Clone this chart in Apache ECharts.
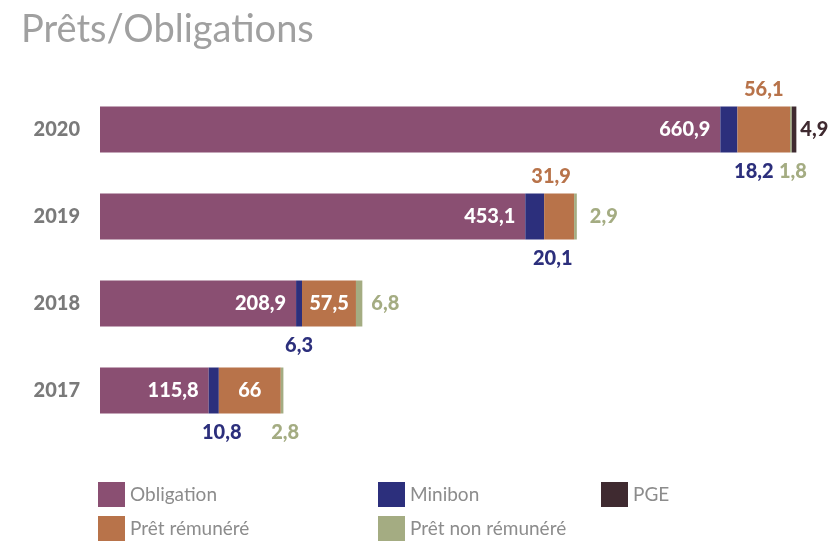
<!DOCTYPE html>
<html><head><meta charset="utf-8">
<script src="https://cdn.jsdelivr.net/npm/echarts@6/dist/echarts.min.js"></script>
<style>html,body{margin:0;padding:0;background:#fff}#c{width:834px;height:552px}</style>
</head><body><div id="c"></div>
<script>
const years = ['2017','2018','2019','2020'];
const obligation = [115.8, 208.9, 453.1, 660.9];
const minibon = [10.8, 6.3, 20.1, 18.2];
const pretRem = [66, 57.5, 31.9, 56.1];
const pretNonRem = [2.8, 6.8, 2.9, 1.8];
const pge = [0, 0, 0, 4.9];

const fmt = v => String(v).replace('.', ',');
const F = 'Lato, "Open Sans", sans-serif';
const lab = (color, extra) => Object.assign({show:true, color, fontFamily:F, fontWeight:900, fontSize:20, formatter: p => fmt(p.value)}, extra||{});
const C = {ob:'#8a4f72', mi:'#2c2f7c', pr:'#b8734a', nr:'#a4ac82', pg:'#3f2a30'};

const miLabels = [
  {offset:[8,4]}, {offset:[0,4]}, {offset:[18,4]}, {offset:[25,4]}
];
const prLabelCfg = [
  {position:'inside', color:'#fff'}, {position:'inside', color:'#fff'},
  {position:'top', color:C.pr, offset:[-8,-2]}, {position:'top', color:C.pr, offset:[0,-2]}
];
const nrLabelCfg = [
  {position:'bottom', offset:[3,4]}, {position:'right', offset:[4,0]},
  {position:'right', offset:[8,0]}, {position:'bottom', offset:[2,4]}
];

function mk(name, arr, color, labelFn) {
  return {name, type:'bar', stack:'s', barWidth:46, itemStyle:{color},
    data: arr.map((v,i)=>({value:v, label: labelFn(i)}))};
}

const chart = echarts.init(document.getElementById('c'));
const legendItem = (name, left, top) => ({data:[name], left, top, itemWidth:27, itemHeight:25, itemGap:8,
  textStyle:{color:'#8c8c8c', fontSize:19, fontFamily:F}, icon:'rect', selectedMode:false});
chart.setOption({
  animation:false,
  title:{text:'Prêts/Obligations', left:16, top:6, textStyle:{color:'#a0a0a0', fontSize:38, fontWeight:'normal', fontFamily:F}},
  grid:{left:100, right:0, top:86, height:348, containLabel:false},
  xAxis:{type:'value', min:0, max:782, show:false},
  yAxis:{type:'category', data:years, axisLine:{show:false}, axisTick:{show:false},
    axisLabel:{color:'#7a7a7a', fontSize:20, fontWeight:900, fontFamily:F, margin:20}},
  legend:[
    legendItem('Obligation', 93, 477), legendItem('Minibon', 373, 477), legendItem('PGE', 596, 477),
    legendItem('Prêt rémunéré', 93, 511), legendItem('Prêt non rémunéré', 373, 511)
  ],
  series:[
    mk('Obligation', obligation, C.ob, i=>lab('#fff',{position:'insideRight', distance:10})),
    mk('Minibon', minibon, C.mi, i=>lab(C.mi, Object.assign({position:'bottom'}, miLabels[i]))),
    mk('Prêt rémunéré', pretRem, C.pr, i=>lab(prLabelCfg[i].color, prLabelCfg[i])),
    mk('Prêt non rémunéré', pretNonRem, C.nr, i=>lab(C.nr, nrLabelCfg[i])),
    mk('PGE', pge, C.pg, i=> i===3 ? lab(C.pg,{position:'right', distance:4}) : {show:false})
  ]
});
</script></body></html>
